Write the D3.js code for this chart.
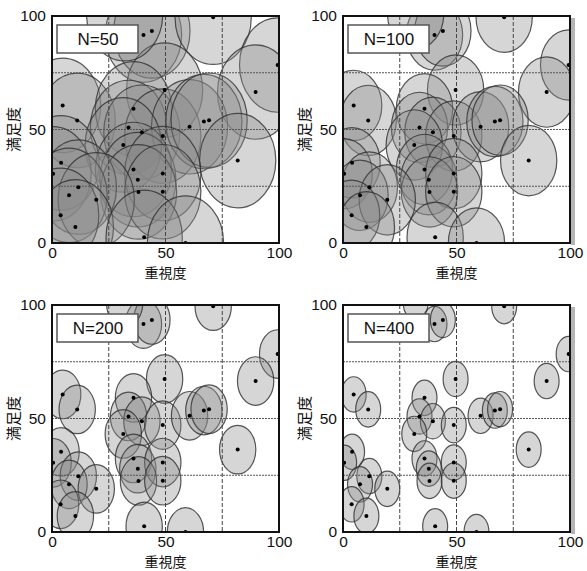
<!DOCTYPE html>
<html>
<head>
<meta charset="utf-8">
<script src="https://d3js.org/d3.v7.min.js"></script>
<style>
  body { margin: 0; background: #fff; }
  text { font-family: "Liberation Sans", Arial, sans-serif; fill: #111; }
  .jp { font-family: "Noto Sans CJK JP", sans-serif; }
</style>
</head>
<body>
<svg id="plot" width="587" height="571"></svg>
<script>
// sample sizes of the four panels
const panelN = [50, 100, 200, 400];
// ellipse half-widths (x) and half-heights (y) in data units, read per panel
const semiX = [16.8, 12.4, 8.0, 5.5];
const semiY = [20.8, 15.5, 10.7, 7.8];

// item positions: importance (x) vs satisfaction (y)
const xVals = [40.3, 44, 71, 99.4, 89.7, 49.6, 4.7, 11.1, 35.9, 33.7, 39.6, 48.8, 60.6, 66.9, 69.2, 31.4,
               4, 0.5, 81.8, 35.9, 37.8, 48.8, 38.1, 48.8, 11.6, 7.5, 19.5, 3.8, 10.3, 40.6, 58.8, 32];
const yVals = [91.6, 93.4, 99.5, 78.4, 66.5, 67.4, 60.6, 54, 59.1, 50.9, 48.8, 47.1, 51.2, 53.5, 54.1, 43.2,
               35.3, 30.5, 36.3, 32.4, 27.9, 30.6, 22.5, 22.6, 24.6, 21, 19, 12.2, 7.1, 2.5, 0, 101];

const tickVals = [0, 50, 100];
const gridVals = [25, 50, 75];
const xTitle = '重視度';
const yTitle = '満足度';

const points = xVals.map((x, i) => ({x: x, y: yVals[i]}));

const svg = d3.select('svg#plot');
const size = 227;
const offsets = [[52, 16], [343, 16], [52, 305], [343, 305]];

const x = d3.scaleLinear().domain([0, 100]).range([0, size]);
const y = d3.scaleLinear().domain([0, 100]).range([size, 0]);

panelN.forEach((n, p) => {
    const g = svg.append('g')
        .attr('transform', `translate(${offsets[p][0]},${offsets[p][1]})`);

    g.append('clipPath').attr('id', 'clip' + p)
        .append('rect').attr('width', size).attr('height', size);

    const inner = g.append('g').attr('clip-path', `url(#clip${p})`);

    // ellipses
    inner.selectAll('ellipse')
        .data(points)
        .join('ellipse')
        .attr('cx', d => x(d.x))
        .attr('cy', d => y(d.y))
        .attr('rx', x(semiX[p]) - x(0))
        .attr('ry', y(0) - y(semiY[p]))
        .style('fill', '#8a8a8a')
        .style('fill-opacity', 0.35)
        .style('stroke', '#2e2e2e')
        .style('stroke-opacity', 0.8)
        .style('stroke-width', 1.2);

    // grid
    gridVals.forEach(v => {
        inner.append('line')
            .attr('x1', x(v)).attr('x2', x(v))
            .attr('y1', 0).attr('y2', size)
            .style('stroke', '#444').style('stroke-width', 1)
            .style('stroke-dasharray', '4,2');
        inner.append('line')
            .attr('x1', 0).attr('x2', size)
            .attr('y1', y(v)).attr('y2', y(v))
            .style('stroke', '#555').style('stroke-width', 1.2)
            .style('stroke-dasharray', '2,1');
    });

    // points
    inner.selectAll('circle')
        .data(points)
        .join('circle')
        .attr('cx', d => x(d.x))
        .attr('cy', d => y(d.y))
        .attr('r', 2)
        .style('fill', '#000');

    // shadow strip on right column
    if (p % 2 === 1) {
        g.append('rect')
            .attr('x', size + 1).attr('y', 2)
            .attr('width', 4).attr('height', size)
            .style('fill', '#b5b5b5');
    }

    // frame
    g.append('rect')
        .attr('width', size).attr('height', size)
        .style('fill', 'none')
        .style('stroke', '#111')
        .style('stroke-width', 2);

    // legend box
    g.append('rect')
        .attr('x', 5).attr('y', 9)
        .attr('width', 81).attr('height', 28)
        .style('fill', '#fff')
        .style('stroke', '#555')
        .style('stroke-width', 1.5);
    g.append('text')
        .attr('x', 46).attr('y', 29)
        .attr('text-anchor', 'middle')
        .attr('font-size', '17px')
        .text('N=' + n);

    // axes
    const xAxis = g.append('g')
        .attr('transform', `translate(0,${size})`)
        .call(d3.axisBottom(x).tickValues(tickVals).tickSize(0).tickPadding(4));
    const yAxis = g.append('g')
        .call(d3.axisLeft(y).tickValues(tickVals).tickSize(0).tickPadding(6));
    [xAxis, yAxis].forEach(a => {
        a.select('.domain').remove();
        a.selectAll('text')
            .attr('font-size', '15.5px')
            .style('font-family', '"Liberation Sans", Arial, sans-serif')
            .style('fill', '#111');
    });

    // titles
    g.append('text')
        .attr('class', 'jp')
        .attr('x', size / 2).attr('y', size + 35)
        .attr('text-anchor', 'middle')
        .attr('font-size', '14px')
        .text(xTitle);
    g.append('text')
        .attr('class', 'jp')
        .attr('transform', `translate(-33,${size / 2}) rotate(-90)`)
        .attr('text-anchor', 'middle')
        .attr('font-size', '15px')
        .text(yTitle);
});
</script>
</body>
</html>
